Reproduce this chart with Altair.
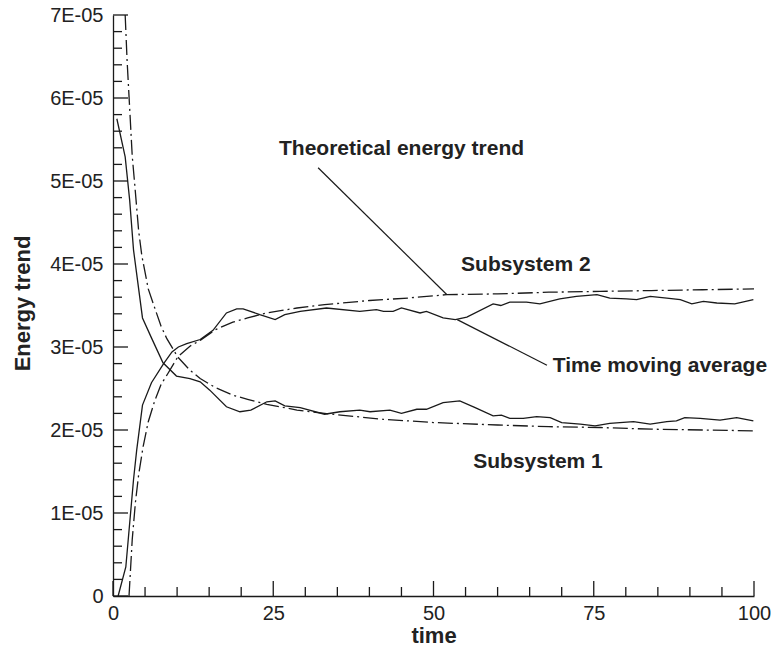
import altair as alt
import pandas as pd

# ---- data (energy values in units of 1E-05) ----
# Theoretical energy trend, subsystem 1 (decreasing, dash-dot)
theo1_t = [1.9, 2.2, 2.55, 3.0, 3.4, 4.0, 4.5, 5.5, 6.6, 7.5, 8.4, 10.1, 12, 13.6, 16, 18.7, 21, 24, 28.7, 33, 42, 50, 60, 68, 76, 84, 92, 100]
theo1_v = [7.00, 6.45, 5.95, 5.30, 4.95, 4.40, 4.10, 3.70, 3.45, 3.25, 3.10, 2.88, 2.72, 2.62, 2.51, 2.42, 2.37, 2.31, 2.24, 2.20, 2.13, 2.09, 2.06, 2.04, 2.03, 2.01, 2.00, 1.99]

# Theoretical energy trend, subsystem 2 (increasing, dash-dot)
theo2_t = [2.5, 3.0, 3.5, 4.0, 4.7, 5.5, 6.5, 7.5, 8.4, 10.1, 12, 13.6, 16, 18.7, 21, 24, 28.7, 33, 40, 46, 52, 60, 68, 76, 84, 92, 100]
theo2_v = [0.00, 0.68, 1.13, 1.46, 1.80, 2.10, 2.35, 2.55, 2.66, 2.88, 3.01, 3.08, 3.21, 3.30, 3.35, 3.41, 3.47, 3.51, 3.56, 3.59, 3.63, 3.64, 3.66, 3.67, 3.68, 3.69, 3.70]

# Time moving average, subsystem 1 (solid)
sim1_t = [0.6, 1.9, 2.6, 3.2, 4.6, 6.0, 7.8, 9.9, 12.0, 13.6, 15.1, 17.7, 19.8, 21.5, 24.0, 25.3, 26.8, 29.2, 33.0, 35.4, 38.5, 40.1, 43.2, 45.0, 47.4, 48.9, 51.5, 54.1, 56.5, 59.3, 60.6, 61.9, 64.0, 66.1, 68.2, 70.0, 72.9, 75.2, 77.5, 81.2, 83.8, 86.4, 87.9, 89.2, 91.6, 94.7, 97.3, 99.9]
sim1_v = [5.75, 5.29, 4.77, 4.17, 3.35, 3.11, 2.81, 2.65, 2.62, 2.58, 2.48, 2.28, 2.22, 2.24, 2.34, 2.35, 2.29, 2.27, 2.19, 2.22, 2.24, 2.22, 2.24, 2.20, 2.25, 2.25, 2.33, 2.35, 2.27, 2.17, 2.18, 2.14, 2.14, 2.16, 2.15, 2.09, 2.07, 2.05, 2.08, 2.10, 2.07, 2.10, 2.11, 2.15, 2.14, 2.12, 2.15, 2.11]

# Time moving average, subsystem 2 (solid)
sim2_t = [0.8, 2.0, 3.2, 3.7, 4.6, 6.0, 7.9, 9.2, 10.2, 11.5, 13.6, 15.6, 17.7, 19.3, 20.3, 22.9, 25.3, 26.8, 29.2, 33.3, 38.5, 41.1, 42.2, 43.7, 45.0, 47.9, 48.9, 51.5, 53.4, 55.2, 59.3, 60.5, 61.9, 64.5, 66.6, 69.7, 72.3, 75.5, 77.5, 80.1, 81.7, 83.8, 86.4, 88.5, 90.3, 92.1, 94.2, 97.0, 99.9]
sim2_v = [0.00, 0.35, 1.40, 1.76, 2.30, 2.57, 2.80, 2.94, 3.00, 3.04, 3.09, 3.20, 3.41, 3.46, 3.46, 3.39, 3.33, 3.39, 3.43, 3.47, 3.43, 3.45, 3.43, 3.43, 3.47, 3.41, 3.43, 3.35, 3.33, 3.36, 3.52, 3.50, 3.54, 3.54, 3.52, 3.58, 3.61, 3.63, 3.59, 3.58, 3.57, 3.61, 3.59, 3.57, 3.52, 3.55, 3.53, 3.52, 3.57]

UNIT = 1e-5

# axis ticks
x_major = [0, 25, 50, 75, 100]
x_minor = [v for v in range(0, 101, 5) if v % 25]
y_major = [0, 1, 2, 3, 4, 5, 6, 7]
y_minor = [i / 5 for i in range(0, 36) if i % 5]

# annotations (text, anchor t, anchor value)
ann_text = ["Theoretical energy trend", "Subsystem 2", "Time moving average", "Subsystem 1"]
ann_t = [25.9, 54.3, 68.6, 56.2]
ann_v = [5.31, 3.92, 2.70, 1.54]

# pointer lines (from t, v to t2, v2)
ptr_t = [32.0, 53.7]
ptr_v = [5.16, 3.33]
ptr_t2 = [52.1, 67.7]
ptr_v2 = [3.63, 2.78]

# ---- chart ----
W, H = 641, 581
FONT = "Liberation Sans"
INK = "#1a1a1a"

xs = alt.Scale(domain=[0, 100], nice=False, zero=False)
ys = alt.Scale(domain=[0, 7 * UNIT], nice=False, zero=False)

def series(name, ts, vs):
    return pd.DataFrame({"t": ts, "E": [v * UNIT for v in vs], "series": name})

solid_df = pd.concat([series("sim1", sim1_t, sim1_v), series("sim2", sim2_t, sim2_v)])
dash_df = pd.concat([series("theo1", theo1_t, theo1_v), series("theo2", theo2_t, theo2_v)])

x_axis = alt.Axis(
    values=x_major, ticks=False, grid=False, domain=True, domainColor=INK, domainWidth=1.3,
    labelFont=FONT, labelFontSize=20, labelColor="#222222", labelPadding=7, labelFlush=False,
    title="time", titleFont=FONT, titleFontSize=22, titleFontWeight="bold", titleColor="#222222",
    titleX=W / 2, titleY=46, titleAlign="center", titleBaseline="alphabetic",
)
y_axis = alt.Axis(
    values=[v * UNIT for v in y_major], ticks=False, grid=False, domain=True, domainColor=INK, domainWidth=1.3,
    labelFont=FONT, labelFontSize=20, labelColor="#222222", labelPadding=10, labelFlush=False,
    labelExpr="datum.value == 0 ? '0' : round(datum.value * 1e5) + 'E-05'",
    title="Energy trend", titleFont=FONT, titleFontSize=22, titleFontWeight="bold", titleColor="#222222",
    titleAngle=270, titleX=-84, titleY=288, titleAlign="center", titleBaseline="alphabetic",
)

X = lambda f: alt.X(f, type="quantitative", scale=xs, axis=x_axis)
Y = lambda f: alt.Y(f, type="quantitative", scale=ys, axis=y_axis)

solid = alt.Chart(solid_df).mark_line(color=INK, strokeWidth=1.3).encode(
    x=X("t"), y=Y("E"), detail="series:N",
)
dashed = alt.Chart(dash_df).mark_line(color=INK, strokeWidth=1.3, strokeDash=[15, 4, 2, 4]).encode(
    x=X("t"), y=Y("E"), detail="series:N",
)

def xticks(vals, length):
    return alt.Chart(pd.DataFrame({"t": vals})).mark_rule(color=INK, strokeWidth=1.3).encode(
        x=X("t"), y=alt.value(H), y2=alt.value(H - length)
    )

def yticks(vals, length):
    return alt.Chart(pd.DataFrame({"E": [v * UNIT for v in vals]})).mark_rule(color=INK, strokeWidth=1.3).encode(
        y=Y("E"), x=alt.value(0), x2=alt.value(length)
    )

ann_df = pd.DataFrame({"label": ann_text, "t": ann_t, "E": [v * UNIT for v in ann_v]})
labels = alt.Chart(ann_df).mark_text(
    align="left", baseline="alphabetic", font=FONT, fontSize=21, fontWeight="bold", color="#222222"
).encode(x=X("t"), y=Y("E"), text="label:N")

ptr_df = pd.DataFrame({
    "t": ptr_t, "E": [v * UNIT for v in ptr_v],
    "t2": ptr_t2, "E2": [v * UNIT for v in ptr_v2],
})
pointers = alt.Chart(ptr_df).mark_rule(color=INK, strokeWidth=1.2).encode(
    x=X("t"), y=Y("E"), x2="t2:Q", y2="E2:Q"
)

chart = alt.layer(
    solid, dashed,
    xticks(x_major, 15), xticks(x_minor, 9),
    yticks(y_major, 15), yticks(y_minor, 9),
    pointers, labels,
).properties(
    width=W, height=H,
    padding={"left": 113, "top": 15, "right": 22, "bottom": 55},
    autosize=alt.AutoSizeParams(type="none"),
).configure_view(strokeOpacity=0)

chart.save("out.html", embed_options={"renderer": "svg", "actions": False})
